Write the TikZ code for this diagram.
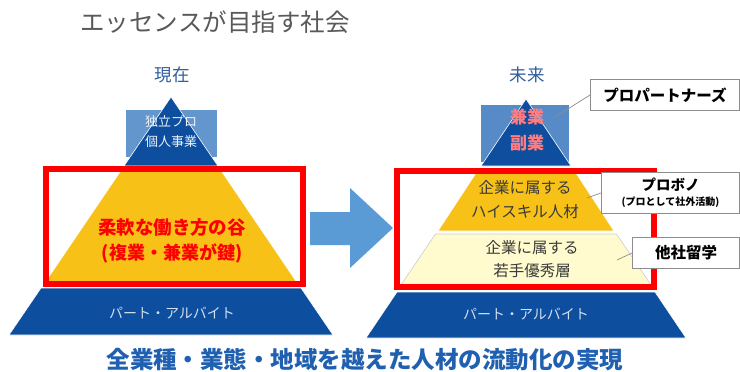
\documentclass[tikz,border=0pt]{standalone}
\usepackage{fontspec}
\setmainfont{Noto Sans CJK JP}
\definecolor{dblue}{HTML}{0D4E9E}
\definecolor{lblue}{HTML}{6496CE}
\definecolor{gold}{HTML}{F7C117}
\definecolor{lyellow}{HTML}{FFFBCF}
\definecolor{rred}{HTML}{FF0000}
\definecolor{arrowblue}{HTML}{5B9BD5}
\definecolor{titlegray}{HTML}{595959}
\definecolor{headblue}{HTML}{2F5F9E}
\definecolor{botblue}{HTML}{1F60B0}
\definecolor{pinktxt}{HTML}{FF7C80}
\definecolor{darktxt}{HTML}{3A3A3A}
\definecolor{boxgray}{HTML}{8C8C8C}
\tikzset{
  txt/.style={inner sep=0pt, anchor=center},
  layer/.style={draw=white, line width=0.6pt},
  redframe/.style={draw=rred, line width=6pt},
  callout/.style={draw=boxgray, line width=1pt, fill=white, inner sep=0pt, anchor=north west, text=black},
  leader/.style={draw=boxgray, line width=0.7pt},
}
\newcommand{\fs}[1]{\fontsize{#1}{#1}\selectfont}
\begin{document}
\begin{tikzpicture}[x=1pt,y=-1pt]
\useasboundingbox[fill=white] (0,0) rectangle (740,372);

% title
\node[txt, text=titlegray] (title) at (215,22) {\fs{24.5}エッセンスが目指す社会};

% ---------- left pyramid ----------
\node[txt, text=headblue] (now) at (172,75) {\fs{17.5}現在};
\fill[lblue] (126,110) rectangle (217,157);
\fill[layer, fill=dblue] (171,97) -- (218,166) -- (124,166) -- cycle;
\node[txt, text=white!88!lblue] (l1) at (171,122) {\fs{13}独立プロ};
\node[txt, text=white!88!lblue] (l2) at (171,142) {\fs{13}個人事業};
\fill[layer, fill=gold] (122,169) -- (220,169) -- (298,284) -- (44,284) -- cycle;
\fill[layer, fill=dblue] (41,288) -- (301,288) -- (333,335) -- (9,335) -- cycle;
\draw[redframe] (46,169) rectangle (303,284);
\node[txt, text=rred] (valley) at (172,227) {\fs{18.5}\bfseries 柔軟な働き方の谷};
\node[txt, text=rred] (key) at (172,253) {\fs{18}\bfseries (複業・兼業が鍵)};
\node[txt, text=white!82!dblue] (partL) at (172,313) {\fs{14}パート・アルバイト};

% arrow
\fill[arrowblue] (310,212) -- (350,212) -- (350,188) -- (393,228) -- (350,268) -- (350,245) -- (310,245) -- cycle;

% ---------- right pyramid ----------
\node[txt, text=headblue] (future) at (527,75) {\fs{17.5}未来};
\fill[lblue!85!dblue] (481,105) rectangle (569,162);
\fill[layer, fill=dblue] (526,99) -- (571,166) -- (481,166) -- cycle;
\node[txt, text=pinktxt] (r1) at (527,117) {\fs{17}\bfseries 兼業};
\node[txt, text=pinktxt] (r2) at (527,143) {\fs{17}\bfseries 副業};
\fill[layer, fill=gold] (478,170) -- (574,170) -- (614,231) -- (438,231) -- cycle;
\fill[layer, fill=lyellow, draw=gray!40] (435.5,234) -- (616.5,234) -- (651,285) -- (401,285) -- cycle;
\fill[layer, fill=dblue] (397,292) -- (655,292) -- (686,338) -- (366,338) -- cycle;
\draw[redframe] (397,171) rectangle (654,287);
\node[txt, text=darktxt] (y1) at (525,188) {\fs{15.5}企業に属する};
\node[txt, text=darktxt] (y2) at (525,212) {\fs{15.5}ハイスキル人材};
\node[txt, text=darktxt] (w1) at (532,248) {\fs{15.5}企業に属する};
\node[txt, text=darktxt] (w2) at (532,271) {\fs{15.5}若手優秀層};
\node[txt, text=white!82!dblue] (partR) at (526,314) {\fs{14}パート・アルバイト};

% callouts
\coordinate (c1) at (555,117);
\coordinate (c2) at (587,198);
\coordinate (c3) at (617,260);
\node[callout, minimum width=149pt, minimum height=31pt] (pp) at (590,79) {\fs{15.5}\bfseries プロパートナーズ};
\node[callout, minimum width=138pt, minimum height=41pt, align=center] (pb) at (601,172)
  {\fs{14.5}\bfseries プロボノ\\[3pt]\fs{10}\bfseries (プロとして社外活動)};
\node[callout, minimum width=107pt, minimum height=31pt] (ts) at (632,237) {\fs{15.5}\bfseries 他社留学};
\draw[leader] (pp.west) -- (c1);
\draw[leader] (pb.west) -- (c2);
\draw[leader] (ts.west) -- (c3);

% bottom message
\node[txt, text=botblue] (msg) at (365,360) {\fs{23.5}\bfseries 全業種・業態・地域を越えた人材の流動化の実現};
\end{tikzpicture}
\end{document}
